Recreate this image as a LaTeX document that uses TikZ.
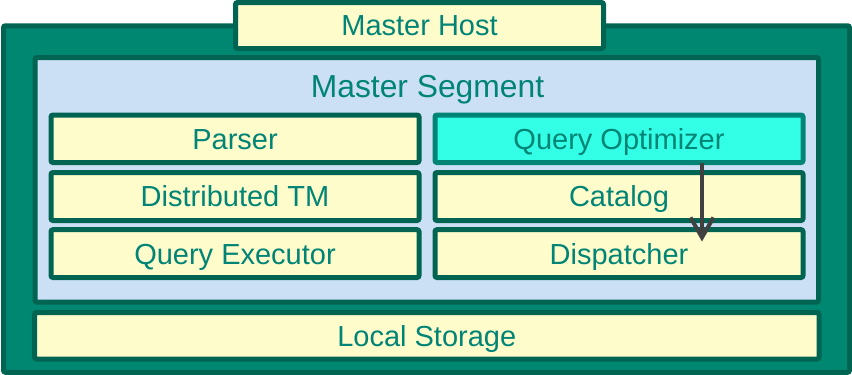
\documentclass[tikz,border=0pt]{standalone}
\usepackage{fontspec}
\setmainfont{Liberation Sans}
\usetikzlibrary{arrows.meta}

\definecolor{hostgreen}{RGB}{0,135,114}
\definecolor{edgegreen}{RGB}{0,100,82}
\definecolor{segblue}{RGB}{204,224,245}
\definecolor{cellyellow}{RGB}{255,252,204}
\definecolor{optcyan}{RGB}{51,255,230}
\definecolor{labelteal}{RGB}{0,132,118}
\definecolor{flowgray}{RGB}{64,64,64}

\tikzset{
  panel/.style={draw=edgegreen, line width=5pt, rounded corners=2pt,
    inner sep=0pt, outer sep=0pt},
  cell/.style={panel, fill=cellyellow, text=labelteal,
    font=\fontsize{29}{31}\selectfont,
    text height=20.8pt, text depth=0pt},
  activecell/.style={cell, fill=optcyan, draw=labelteal},
  flow/.style={draw=flowgray, line width=4pt,
    -{Straight Barb[length=20pt,width=23pt,line width=4pt]}},
}

\begin{document}
\begin{tikzpicture}[x=1pt, y=-1pt]
  \useasboundingbox (0,0) rectangle (852,375);

  % host enclosure
  \node[panel, fill=hostgreen, minimum width=846pt, minimum height=346.5pt]
    (host) at (426.5,199) {};
  \node[cell, minimum width=368pt, minimum height=46pt]
    (hostlabel) at (419.5,25.5) {Master Host};

  % master segment
  \node[panel, fill=segblue, minimum width=783.5pt, minimum height=244.5pt]
    (seg) at (426.75,179.75) {};
  \node[anchor=base, text=labelteal, font=\fontsize{31.8}{34}\selectfont,
    inner sep=0pt] (segtitle) at (427.5,97.5) {Master Segment};

  % left column
  \node[cell, minimum width=368pt, minimum height=47.5pt]
    (parser) at (235,138.75) {Parser};
  \node[cell, minimum width=368pt, minimum height=48pt]
    (dtm) at (235,196.5) {Distributed TM};
  \node[cell, minimum width=368pt, minimum height=47.8pt]
    (exec) at (235,253.6) {Query Executor};

  % right column
  \node[activecell, minimum width=368pt, minimum height=47.5pt]
    (qo) at (619,138.75) {Query Optimizer};
  \node[cell, minimum width=368pt, minimum height=48pt]
    (catalog) at (619,196.5) {Catalog};
  \node[cell, minimum width=368pt, minimum height=47.8pt]
    (dispatch) at (619,253.6) {Dispatcher};

  % storage
  \node[cell, minimum width=784.5pt, minimum height=46.5pt]
    (storage) at (426.75,335.75) {Local Storage};

  % plan handed from optimizer to dispatcher
  \coordinate (plantip) at (702,241.5);
  \draw[flow] (plantip |- qo.south) -- (plantip);
\end{tikzpicture}
\end{document}
